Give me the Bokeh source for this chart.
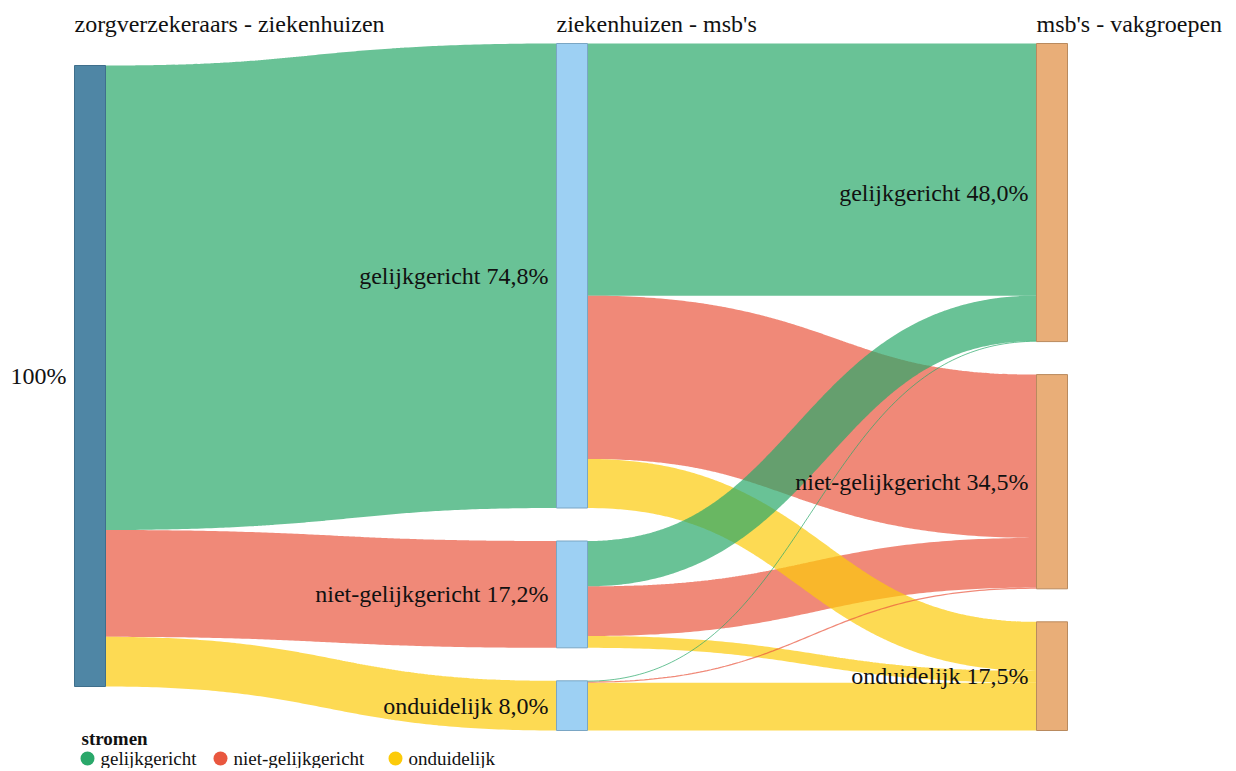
import numpy as np
from bokeh.plotting import figure
from bokeh.models import Range1d, ColumnDataSource
from bokeh.core.properties import value
from bokeh.embed import file_html
from bokeh.resources import INLINE

# ---------------- data ----------------
column_titles = ["zorgverzekeraars - ziekenhuizen", "ziekenhuizen - msb's", "msb's - vakgroepen"]
root_label = "100%"
categories = ["gelijkgericht", "niet-gelijkgericht", "onduidelijk"]
root_to_stage1 = [74.8, 17.2, 8.0]
stage1_gelijk_to_stage2 = [40.6, 26.3, 7.9]
stage1_niet_to_stage2 = [7.3, 8.0, 1.9]
stage1_ond_to_stage2 = [0.1, 0.2, 7.7]
flow_colors = ["#2aa86a", "#e9573f", "#fccb0a"]
legend_title = "stromen"

# ---------------- layout (screen pixels) ----------------
W, H = 1228, 768
SCALE = 6.21          # px per percent
NODE_W = 31
COL_X = [74, 556, 1036]
COL_TOP = [65, 43, 43]
GAP = 33
node_fill = ["#4f86a5", "#9dd0f3", "#e9ae78"]
node_line = ["#3f6f8c", "#7aa6c4", "#b98a5e"]
FONT = value("Liberation Serif")

stage2_matrix = [stage1_gelijk_to_stage2, stage1_niet_to_stage2, stage1_ond_to_stage2]
stage2_totals = [round(sum(r[j] for r in stage2_matrix), 1) for j in range(3)]
col_values = [[round(sum(root_to_stage1), 1)], list(root_to_stage1), stage2_totals]


def fmt(v):
    return f"{v:.1f}".replace(".", ",") + "%"


nodes = []
for c, vals in enumerate(col_values):
    y = COL_TOP[c]
    col = []
    for v in vals:
        h = v * SCALE
        col.append(dict(x0=COL_X[c], x1=COL_X[c] + NODE_W, y0=y, y1=y + h, v=v))
        y += h + GAP
    nodes.append(col)

links = []
for j, v in enumerate(root_to_stage1):
    links.append((0, 0, 1, j, v, flow_colors[j]))
for i, row in enumerate(stage2_matrix):
    for j, v in enumerate(row):
        links.append((1, i, 2, j, v, flow_colors[j]))

src_off = {}
tgt_off = {}
paths = []
t = np.linspace(0, 1, 120)
for (sc, si, tc, ti, v, color) in links:
    w = v * SCALE
    sn = nodes[sc][si]
    tn = nodes[tc][ti]
    so = src_off.get((sc, si), 0.0)
    to = tgt_off.get((tc, ti), 0.0)
    y0 = sn["y0"] + so + w / 2
    y1 = tn["y0"] + to + w / 2
    src_off[(sc, si)] = so + w
    tgt_off[(tc, ti)] = to + w
    x0 = sn["x1"]
    x1 = tn["x0"]
    xm = (x0 + x1) / 2
    bx = (1 - t) ** 3 * x0 + 3 * (1 - t) ** 2 * t * xm + 3 * (1 - t) * t ** 2 * xm + t ** 3 * x1
    by = (1 - t) ** 3 * y0 + 3 * (1 - t) ** 2 * t * y0 + 3 * (1 - t) * t ** 2 * y1 + t ** 3 * y1
    paths.append((w, list(bx), list(by), color))

# draw widest flows first, narrow ones on top
paths.sort(key=lambda r: -r[0])
xs = [r[1] for r in paths]
ys = [r[2] for r in paths]
lc = [r[3] for r in paths]
lw = [max(r[0], 1.0) for r in paths]

p = figure(width=W, height=H, output_backend="svg", toolbar_location=None,
           x_range=Range1d(0, W), y_range=Range1d(H, 0),
           min_border=0, x_axis_location=None, y_axis_location=None)
p.grid.visible = False
p.outline_line_color = None
p.background_fill_color = "white"
p.border_fill_color = "white"

p.multi_line(xs=xs, ys=ys, line_color=lc, line_width=lw, line_alpha=0.7, line_cap="butt")

for c, col in enumerate(nodes):
    src = ColumnDataSource(dict(
        left=[n["x0"] for n in col], right=[n["x1"] for n in col],
        top=[n["y0"] for n in col], bottom=[n["y1"] for n in col]))
    p.quad(left="left", right="right", top="top", bottom="bottom", source=src,
           fill_color=node_fill[c], line_color=node_line[c], line_width=1)

lab_x, lab_y, lab_t = [], [], []
for c, col in enumerate(nodes):
    for k, n in enumerate(col):
        lab_x.append(n["x0"] - 8)
        lab_y.append((n["y0"] + n["y1"]) / 2)
        lab_t.append(root_label if c == 0 else f"{categories[k]} {fmt(n['v'])}")
p.text(x=lab_x, y=lab_y, text=lab_t, text_align="right", text_baseline="middle",
       text_font=FONT, text_font_size="24px", text_color="#111111")

p.text(x=[COL_X[c] for c in range(3)], y=[23] * 3, text=column_titles,
       text_align="left", text_baseline="middle", text_font=FONT,
       text_font_size="24px", text_color="#111111")

legend_item_x = [80, 213, 388]
p.text(x=[81], y=[738], text=[legend_title], text_align="left", text_baseline="middle",
       text_font=FONT, text_font_size="19px", text_font_style="bold", text_color="#111111")
p.scatter(x=[lx + 7 for lx in legend_item_x], y=[758] * 3, size=14,
          fill_color=flow_colors, line_color=None)
p.text(x=[lx + 20 for lx in legend_item_x], y=[758] * 3, text=categories,
       text_align="left", text_baseline="middle", text_font=FONT,
       text_font_size="19px", text_color="#111111")

open("out.html", "w").write(file_html(p, INLINE))
